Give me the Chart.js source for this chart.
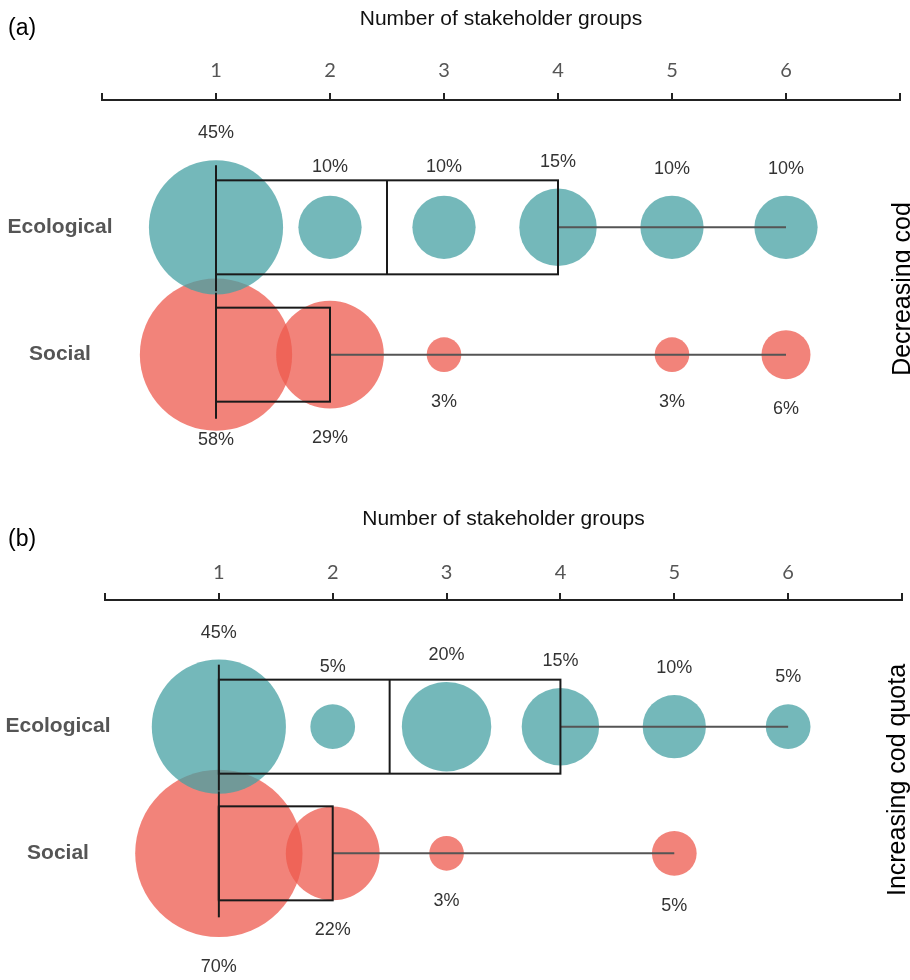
<!DOCTYPE html>
<html><head><meta charset="utf-8">
<script src="https://cdn.jsdelivr.net/npm/chart.js@4.4.0/dist/chart.umd.min.js"></script>
<style>
html,body{margin:0;padding:0;background:#fff;}
.panel{position:relative;width:910px;height:490px;}
</style></head><body>
<div class="panel"><canvas id="ca"></canvas></div>
<div class="panel"><canvas id="cb"></canvas></div>
<script>
// ---- data ----
const groups = [1, 2, 3, 4, 5, 6];
const tickLabels = ['1', '2', '3', '4', '5', '6'];
const rows = ['Ecological', 'Social'];
const ecoA = [45, 10, 10, 15, 10, 10];
const socA = [58, 29, 3, null, 3, 6];
const ecoB = [45, 5, 20, 15, 10, 5];
const socB = [70, 22, 3, null, 5, null];
// box stats: [min, q1, median, q3, max]
const ecoBoxA = [1, 1, 2.5, 4, 6];
const socBoxA = [1, 1, 1, 2, 6];
const ecoBoxB = [1, 1, 2.5, 4, 6];
const socBoxB = [1, 1, 1, 2, 5];
const panelTags = ['(a)', '(b)'];
const scenarios = ['Decreasing cod', 'Increasing cod quota'];
const axisTitle = 'Number of stakeholder groups';

const TEAL = 'rgba(70,160,163,0.75)';
const RED = 'rgba(238,90,78,0.75)';
const SANS = '"Liberation Sans", Arial, sans-serif';
function radiusFor(p) { return 10 * Math.sqrt(p); }
function rowValue(i) { return rows.length - i; }
function bubbleData(vals, rowIdx) {
  const out = [];
  groups.forEach((g, j) => { if (vals[j] != null) out.push({ x: g, y: rowValue(rowIdx), r: radiusFor(vals[j]) }); });
  return out;
}

const decor = {
  id: 'decor',
  afterDatasetsDraw(chart, args, o) {
    const ctx = chart.ctx, xs = chart.scales.x, ys = chart.scales.y;
    const px = v => xs.getPixelForValue(v);
    ctx.save();
    // box plots
    o.boxes.forEach((b, i) => {
      const yc = ys.getPixelForValue(rowValue(i));
      const h = o.boxHalf;
      ctx.lineCap = 'butt';
      ctx.strokeStyle = '#555'; ctx.lineWidth = 2;
      ctx.beginPath(); ctx.moveTo(px(b[3]), yc); ctx.lineTo(px(b[4]), yc); ctx.stroke();
      if (b[1] > b[0]) { ctx.beginPath(); ctx.moveTo(px(b[0]), yc); ctx.lineTo(px(b[1]), yc); ctx.stroke(); }
      ctx.strokeStyle = '#1a1a1a'; ctx.lineWidth = 2;
      ctx.strokeRect(px(b[1]), yc - h, px(b[3]) - px(b[1]), 2 * h);
      ctx.beginPath(); ctx.moveTo(px(b[2]), yc - h); ctx.lineTo(px(b[2]), yc + h); ctx.stroke();
      ctx.beginPath(); ctx.moveTo(px(b[0]), yc - o.capUp); ctx.lineTo(px(b[0]), yc + o.capDown); ctx.stroke();
    });
    // row labels
    ctx.font = 'bold 21px ' + SANS; ctx.fillStyle = '#555';
    ctx.textAlign = 'center'; ctx.textBaseline = 'middle';
    rows.forEach((name, i) => ctx.fillText(name, o.rowLabelX, ys.getPixelForValue(rowValue(i))));
    // percent labels
    ctx.font = '18px ' + SANS; ctx.fillStyle = '#333';
    o.series.forEach((vals, i) => {
      const yc = ys.getPixelForValue(rowValue(i));
      const b = o.boxes[i];
      vals.forEach((v, j) => {
        if (v == null) return;
        const xv = groups[j], r = radiusFor(v);
        let ly;
        if (i === 0) {
          ly = yc - r - 27;
          if (xv >= b[1] && xv <= b[3]) ly = Math.min(ly, yc - o.boxHalf - 13);
        } else {
          ly = yc + r + 30;
          if (o.maxLabelY) ly = Math.min(ly, o.maxLabelY);
        }
        ctx.fillText(v + '%', px(xv), ly);
      });
    });
    // panel tag
    ctx.font = '23px ' + SANS; ctx.fillStyle = '#000';
    ctx.textAlign = 'left'; ctx.textBaseline = 'alphabetic';
    ctx.fillText(o.tag, 8, o.tagY);
    // scenario (rotated)
    ctx.font = '25px ' + SANS;
    ctx.translate(o.scenX, o.scenY); ctx.rotate(-Math.PI / 2);
    ctx.textAlign = 'center'; ctx.textBaseline = 'alphabetic';
    ctx.fillText(o.scenario, 0, 0);
    ctx.restore();
  }
};

function makePanel(id, idx, eco, soc, ecoBox, socBox, L) {
  return new Chart(document.getElementById(id), {
    type: 'bubble',
    data: {
      datasets: [
        { label: rows[0], data: bubbleData(eco, 0), backgroundColor: TEAL, borderWidth: 0, hoverBorderWidth: 0, hoverRadius: 0, clip: false },
        { label: rows[1], data: bubbleData(soc, 1), backgroundColor: RED, borderWidth: 0, hoverBorderWidth: 0, hoverRadius: 0, clip: false }
      ]
    },
    options: {
      responsive: true, maintainAspectRatio: false, animation: false,
      events: [],
      layout: { autoPadding: false, padding: { left: L.yW, right: L.padRight, top: 0, bottom: L.padBottom } },
      plugins: {
        legend: { display: false }, tooltip: { enabled: false },
        decor: {
          boxes: [ecoBox, socBox], series: [eco, soc], boxHalf: 47, capUp: 62, capDown: 64,
          maxLabelY: L.maxLabelY, tag: panelTags[idx], tagY: L.tagY, rowLabelX: L.rowLabelX,
          scenario: scenarios[idx], scenX: L.scenX, scenY: L.scenY
        }
      },
      scales: {
        x: {
          type: 'linear', position: 'top', min: 0, max: 7,
          afterFit: s => { s.height = L.axisH; },
          ticks: {
            stepSize: 1, autoSkip: false, maxRotation: 0, padding: L.tickPad,
            color: '#555', font: { family: 'Lato', size: 20 },
            callback: v => { const k = groups.indexOf(v); return k >= 0 ? tickLabels[k] : ''; }
          },
          grid: { drawOnChartArea: false, drawTicks: true, tickLength: 7, tickColor: '#222', tickWidth: 2, color: '#222', lineWidth: 2 },
          border: { display: true, color: '#222', width: 2 },
          title: { display: true, text: axisTitle, color: '#111', font: { family: SANS, size: 21 }, padding: { top: L.titlePad, bottom: 0 } }
        },
        y: {
          type: 'linear', min: 0, max: 3, display: false
        }
      }
    },
    plugins: [decor]
  });
}

makePanel('ca', 0, ecoA, socA, ecoBoxA, socBoxA,
  { axisH: 100, yW: 102, padRight: 7, padBottom: 8, tickPad: 10, titlePad: 7, rowLabelX: 60, tagY: 35, scenX: 910, scenY: 289, maxLabelY: 440 });
makePanel('cb', 1, ecoB, socB, ecoBoxB, socBoxB,
  { axisH: 110, yW: 105, padRight: 4, padBottom: 0, tickPad: 8, titlePad: 17, rowLabelX: 58, tagY: 56, scenX: 905, scenY: 290, maxLabelY: null });
</script>
</body></html>
